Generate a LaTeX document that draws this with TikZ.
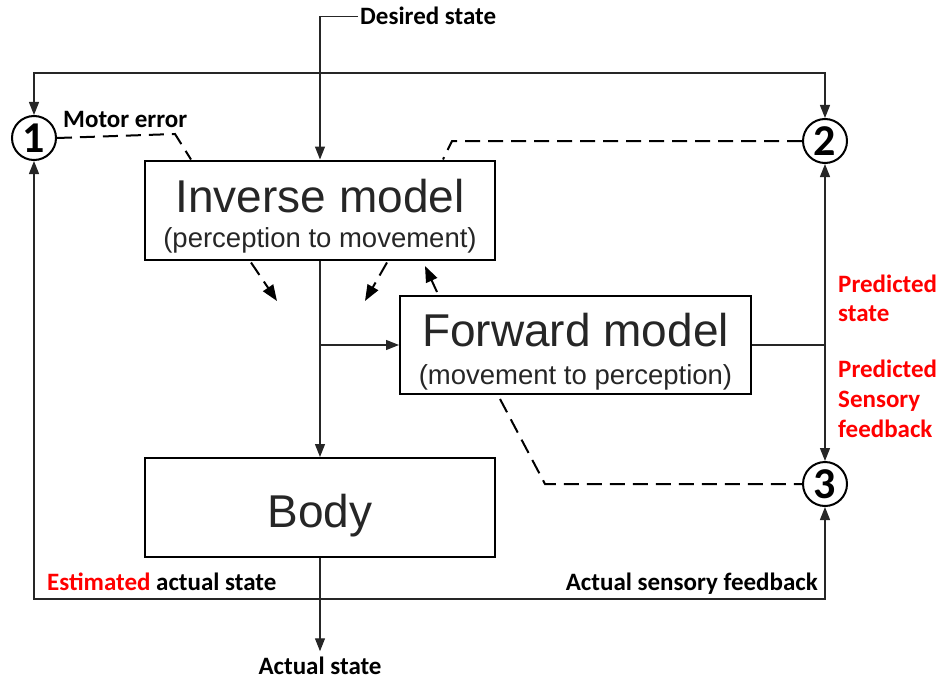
\documentclass[tikz,border=0pt]{standalone}
\usepackage{fontspec}
\newfontfamily\labfam{Carlito}
\newfontfamily\boxfam{Liberation Sans}
\usetikzlibrary{arrows.meta,calc}
\begin{document}
\begin{tikzpicture}[x=1pt,y=-1pt,
  box/.style={draw,line width=2pt,minimum width=350pt,minimum height=99pt,inner sep=0},
  big/.style={font=\boxfam\fontsize{46}{50}\selectfont,text=black!85,inner sep=0,anchor=base},
  small/.style={font=\boxfam\fontsize{27.5}{32}\selectfont,text=black!85,inner sep=0,anchor=base},
  lab/.style={font=\labfam\bfseries\fontsize{25}{30}\selectfont,inner sep=0},
  redlab/.style={lab,text=red},
  sum/.style={draw,circle,line width=2pt,minimum size=44pt,inner sep=0,
    font=\labfam\bfseries\fontsize{44}{44}\selectfont},
  wire/.style={line width=1.3pt,draw=black!85},
  tip/.tip={Triangle[length=13pt,width=10pt]},
  arr/.style={wire,-tip},
  dline/.style={line width=2pt,dash pattern=on 15pt off 8pt},
  darr/.style={dline,-{Triangle[length=16pt,width=12pt]}},
]
\useasboundingbox (0,0) rectangle (941,682);

% summing junctions
\node[sum] (c1) at (34,138) {1};
\node[sum] (c2) at (825,141) {2};
\node[sum] (c3) at (825,484) {3};

% model boxes
\node[box] (inv) at (320,210) {};
\node[big] (invt) at (320,212) {Inverse model};
\node[small] (invs) at (320,247) {(perception to movement)};

\node[box,minimum width=351pt,minimum height=98pt] (fwd) at (575.5,345) {};
\node[big] (fwdt) at (575.5,346) {Forward model};
\node[small] (fwds) at (575.5,384) {(movement to perception)};

\node[box] (body) at (320,507.5) {};
\node[big] (bodyt) at (320,527) {Body};

% labels
\node[lab,anchor=base west] (ds) at (360,25) {Desired state};
\node[lab,anchor=base west] (me) at (63,127) {Motor error};
\node[lab,anchor=base west] (eas) at (47,590) {\textcolor{red}{Estimated} actual state};
\node[lab,anchor=base east] (asf) at (818,590) {Actual sensory feedback};
\node[lab,anchor=base] (as) at (320,674) {Actual state};
\node[redlab,anchor=base west] (p1a) at (838,292) {Predicted};
\node[redlab,anchor=base west] (p1b) at (838,321) {state};
\node[redlab,anchor=base west] (p2a) at (838,377) {Predicted};
\node[redlab,anchor=base west] (p2b) at (838,407) {Sensory};
\node[redlab,anchor=base west] (p2c) at (838,437) {feedback};

% helper rows
\coordinate (toprow) at (0,73);
\coordinate (botrow) at (0,599);

% solid connectors
\draw[arr] ($(ds.west)+(-2,0)$) -| (inv.north);
\draw[wire,tip-tip] (c1.north) -- (c1.north |- toprow) -- (c2.north |- toprow) -- (c2.north);
\draw[wire,tip-tip] (c1.south) -- (c1.south |- botrow) -- (c3.south |- botrow) -- (c3.south);
\draw[arr] (inv.south) -- (body.north);
\coordinate (br) at (inv.south |- fwd.west);
\draw[arr] (br) -- (fwd.west);
\coordinate (fj) at (fwd.east -| c2);
\draw[wire] (fwd.east) -- (fj);
\draw[arr] (fj) -- (c2.south);
\draw[arr] (fj) -- (c3.north);
\draw[arr] (body.south) -- ($(as.north)+(0,-5)$);

% dashed error signals
\coordinate (m1) at (175,134);
\draw[dline] (c1.east) -- (m1) -- ($(inv.north west)+(47,0)$);
\coordinate (m2) at (452,141);
\draw[dline] (c2.west) -- (m2) -- ($(inv.north east)+(-53,0)$);
\coordinate (m3) at (545,484);
\draw[dline] ($(fwd.south west)+(101,4)$) -- (m3) -- (c3.west);

% dashed learning arrows
\coordinate (d1a) at ($(inv.south west)+(107,2)$);
\coordinate (d1b) at (277,301);
\draw[darr] (d1a) -- (d1b);
\coordinate (d2a) at ($(inv.south west)+(243,2)$);
\coordinate (d2b) at (365,301);
\draw[darr] (d2a) -- (d2b);
\coordinate (d3a) at ($(fwd.north west)+(38,-3)$);
\coordinate (d3b) at (425,266);
\draw[darr] (d3a) -- (d3b);
\end{tikzpicture}
\end{document}
